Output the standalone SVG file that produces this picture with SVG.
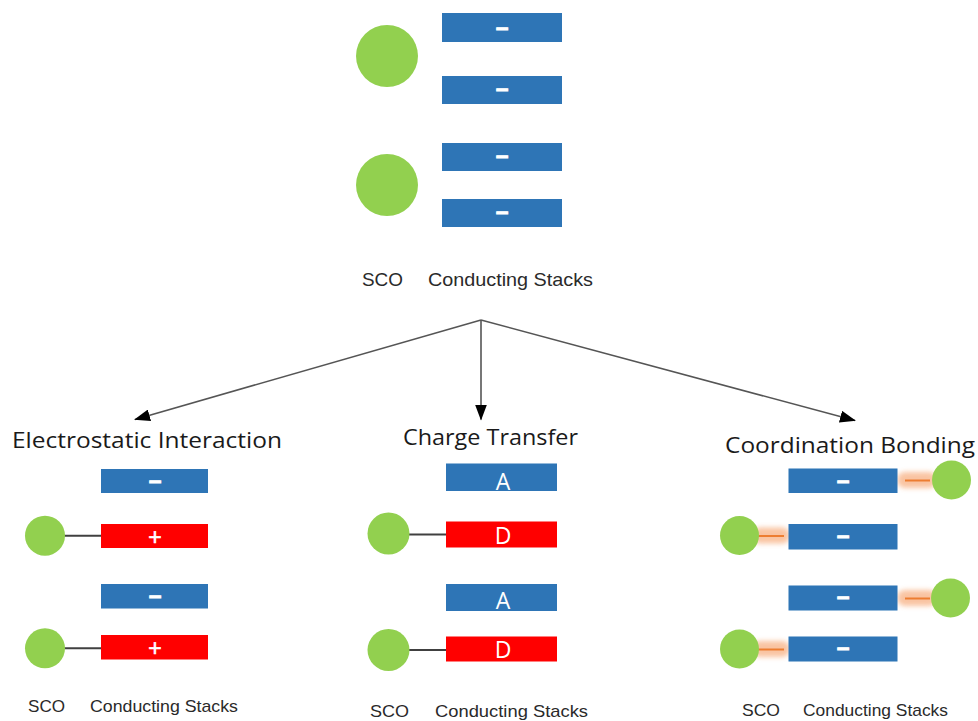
<svg xmlns="http://www.w3.org/2000/svg" width="978" height="721" viewBox="0 0 978 721">
<style>
.bg{fill:#ffffff}
.sco{fill:#92D050;filter:url(#soft)}
.blue{fill:#2E75B6;filter:url(#soft)}
.red{fill:#FF0000;filter:url(#soft)}
.link{stroke:#404040;stroke-width:2;fill:none}
.bondglow{fill:#F8B58A;opacity:0.8;filter:url(#glow)}
.bond{stroke:#ED7D31;stroke-width:2;fill:none}
.sign{fill:#ffffff;stroke:#ffffff;stroke-width:1.2;font-family:"Liberation Sans",Arial,sans-serif;font-weight:bold;text-anchor:middle}
.plus{fill:#ffffff;stroke:#ffffff;stroke-width:0.6;font-family:"Liberation Sans",Arial,sans-serif;font-size:23px;text-anchor:middle}
.letter{fill:#ffffff;font-family:"Open Sans","Liberation Sans",sans-serif;font-size:23px;text-anchor:middle}
.lbl{fill:#2a2a2a;font-family:"Liberation Sans",Arial,sans-serif}
.title{fill:#1a1a1a;font-family:"Open Sans","Liberation Sans",sans-serif;font-size:21.5px}
.arrow{stroke:#555555;stroke-width:1.6;fill:none;marker-end:url(#ah)}
</style>
<defs>
<filter id="soft" x="-10%" y="-20%" width="120%" height="140%"><feGaussianBlur stdDeviation="0.6"/></filter>
<filter id="glow" x="-30%" y="-60%" width="160%" height="220%"><feGaussianBlur stdDeviation="2.5"/></filter>
<marker id="ah" viewBox="0 0 16 12" refX="15" refY="6" markerWidth="16" markerHeight="12" markerUnits="userSpaceOnUse" orient="auto"><path d="M0,0 L16,6 L0,12 Z" fill="#000000"/></marker>
</defs>
<rect class="bg" x="0" y="0" width="978" height="721"/>

<g id="top">
<circle class="sco" cx="387" cy="56" r="31"/>
<circle class="sco" cx="387" cy="185" r="31"/>
<rect class="blue" x="442" y="13" width="120" height="29"/>
<rect class="blue" x="442" y="76" width="120" height="28"/>
<rect class="blue" x="442" y="143" width="120" height="28"/>
<rect class="blue" x="442" y="199" width="120" height="28"/>
<text class="sign" x="502" y="35" font-size="22">–</text>
<text class="sign" x="502" y="96" font-size="22">–</text>
<text class="sign" x="502" y="163" font-size="22">–</text>
<text class="sign" x="502" y="219" font-size="22">–</text>
<text class="lbl" x="362" y="286" font-size="19" textLength="41" lengthAdjust="spacingAndGlyphs">SCO</text>
<text class="lbl" x="428" y="286" font-size="19" textLength="165" lengthAdjust="spacingAndGlyphs">Conducting Stacks</text>
</g>

<g id="connectors">
<line class="arrow" x1="481" y1="320" x2="135" y2="419.5"/>
<line class="arrow" x1="481" y1="320" x2="481" y2="419.5"/>
<line class="arrow" x1="481" y1="320" x2="855" y2="420.5"/>
</g>

<g id="electrostatic">
<text class="title" x="12" y="448" textLength="270" lengthAdjust="spacingAndGlyphs">Electrostatic Interaction</text>
<line class="link" x1="60" y1="535.7" x2="101" y2="535.7"/>
<line class="link" x1="60" y1="648.3" x2="101" y2="648.3"/>
<circle class="sco" cx="45" cy="535.7" r="20"/>
<circle class="sco" cx="45" cy="648.3" r="20"/>
<rect class="blue" x="101" y="469" width="107" height="24"/>
<rect class="red" x="101" y="524" width="107" height="24"/>
<rect class="blue" x="101" y="584" width="107" height="24.5"/>
<rect class="red" x="101" y="635" width="107" height="24.5"/>
<text class="sign" x="155" y="487.5" font-size="22">–</text>
<text class="plus" x="155" y="545">+</text>
<text class="sign" x="155" y="602.5" font-size="22">–</text>
<text class="plus" x="155" y="656">+</text>
<text class="lbl" x="28" y="712" font-size="17" textLength="37" lengthAdjust="spacingAndGlyphs">SCO</text>
<text class="lbl" x="90" y="712" font-size="17" textLength="148" lengthAdjust="spacingAndGlyphs">Conducting Stacks</text>
</g>

<g id="charge-transfer">
<text class="title" x="403" y="445" textLength="175" lengthAdjust="spacingAndGlyphs">Charge Transfer</text>
<line class="link" x1="400" y1="534.5" x2="446" y2="534.5"/>
<line class="link" x1="400" y1="650" x2="446" y2="650"/>
<circle class="sco" cx="388.5" cy="533.5" r="21"/>
<circle class="sco" cx="388.5" cy="650" r="21"/>
<rect class="blue" x="446" y="463.5" width="111" height="27.5"/>
<rect class="red" x="446" y="521.5" width="111" height="26"/>
<rect class="blue" x="446" y="584" width="111" height="27"/>
<rect class="red" x="446" y="636.5" width="111" height="25"/>
<text class="letter" x="503" y="490">A</text>
<text class="letter" x="503" y="544">D</text>
<text class="letter" x="503" y="608.5">A</text>
<text class="letter" x="503" y="657.5">D</text>
<text class="lbl" x="370" y="717" font-size="17" textLength="39" lengthAdjust="spacingAndGlyphs">SCO</text>
<text class="lbl" x="435" y="717" font-size="17" textLength="153" lengthAdjust="spacingAndGlyphs">Conducting Stacks</text>
</g>

<g id="coordination">
<text class="title" x="725" y="453" textLength="250" lengthAdjust="spacingAndGlyphs">Coordination Bonding</text>
<rect class="bondglow" x="897" y="472" width="40" height="16" rx="8"/>
<line class="bond" x1="905" y1="480.5" x2="930" y2="480.5"/>
<rect class="bondglow" x="752" y="527.5" width="38" height="16" rx="8"/>
<line class="bond" x1="758" y1="536" x2="784" y2="536"/>
<rect class="bondglow" x="897" y="590" width="40" height="16" rx="8"/>
<line class="bond" x1="905" y1="598.5" x2="930" y2="598.5"/>
<rect class="bondglow" x="752" y="641" width="38" height="16" rx="8"/>
<line class="bond" x1="758" y1="649.5" x2="784" y2="649.5"/>
<circle class="sco" cx="951.5" cy="480" r="19.5"/>
<circle class="sco" cx="739.5" cy="535.5" r="19.5"/>
<circle class="sco" cx="950.5" cy="598" r="19.5"/>
<circle class="sco" cx="739.5" cy="649" r="19.5"/>
<rect class="blue" x="788.5" y="468.5" width="109" height="24.5"/>
<rect class="blue" x="788.5" y="524" width="109" height="25.5"/>
<rect class="blue" x="788.5" y="585.5" width="109" height="25"/>
<rect class="blue" x="788.5" y="636.5" width="109" height="25"/>
<text class="sign" x="843" y="488" font-size="22">–</text>
<text class="sign" x="843" y="543" font-size="22">–</text>
<text class="sign" x="843" y="604" font-size="22">–</text>
<text class="sign" x="843" y="655" font-size="22">–</text>
<text class="lbl" x="742" y="716" font-size="17" textLength="38" lengthAdjust="spacingAndGlyphs">SCO</text>
<text class="lbl" x="803" y="716" font-size="17" textLength="145" lengthAdjust="spacingAndGlyphs">Conducting Stacks</text>
</g>
</svg>
